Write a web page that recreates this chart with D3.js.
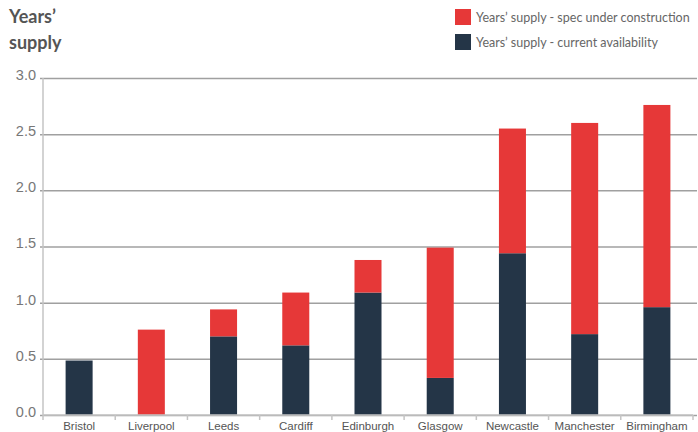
<!DOCTYPE html>
<html lang="en">
<head>
<meta charset="utf-8">
<title>Years' supply</title>
<script src="https://cdn.jsdelivr.net/npm/d3@7"></script>
<style>
  body { margin: 0; background: #fff; }
  svg { font-family: Lato, "Open Sans", sans-serif; }
  .grid line { stroke: #a0a0a0; stroke-width: 1.5; }
  .grid path { display: none; }
  .yaxis text { fill: #777; font-size: 14.5px; }
  .xaxis text { fill: #555; font-size: 11.5px; }
  .xaxis line, .xaxis path { stroke: #c4c4c4; stroke-width: 1.5; }
</style>
</head>
<body>
<script>
// data
var cities = ["Bristol", "Liverpool", "Leeds", "Cardiff", "Edinburgh", "Glasgow", "Newcastle", "Manchester", "Birmingham"];
var currentAvail = [0.485, 0, 0.70, 0.62, 1.09, 0.33, 1.44, 0.72, 0.96];
var specUnderCon = [0, 0.76, 0.24, 0.47, 0.29, 1.16, 1.11, 1.88, 1.80];
var yTicks = [0, 0.5, 1.0, 1.5, 2.0, 2.5, 3.0];
var seriesNames = ["Years\u2019 supply - spec under construction", "Years\u2019 supply - current availability"];
var colors = ["#e63838", "#243547"];

var w = 698, h = 432;
var padL = 43, padR = 693, padT = 78, padB = 415;

var svg = d3.select("body").append("svg")
  .attr("width", w)
  .attr("height", h);

var xScale = d3.scaleBand()
  .domain(cities)
  .range([padL, padR])
  .paddingInner(0.626)
  .paddingOuter(0.313);

var yScale = d3.scaleLinear()
  .domain([0, 3])
  .range([padB, padT]);

// gridlines + y labels
var yAxis = d3.axisLeft(yScale)
  .tickValues(yTicks)
  .tickFormat(d3.format(".1f"))
  .tickSize(-(697 - padL))
  .tickPadding(8);

var gy = svg.append("g")
  .attr("class", "grid yaxis")
  .attr("transform", "translate(" + padL + ",0)")
  .call(yAxis);
gy.selectAll("line").attr("x1", -3);
gy.selectAll("text").attr("x", -7).attr("dy", "0.1em");

// y axis line
svg.append("line")
  .attr("x1", padL).attr("x2", padL)
  .attr("y1", padT).attr("y2", padB)
  .attr("stroke", "#c4c4c4")
  .attr("stroke-width", 1.5);

// stacked bars
var rows = cities.map(function(c, i) {
  return { city: c, cur: currentAvail[i], spec: specUnderCon[i] };
});
var stack = d3.stack().keys(["cur", "spec"]);
var layers = stack(rows);

svg.selectAll("g.layer")
  .data(layers)
  .enter()
  .append("g")
  .attr("class", "layer")
  .attr("fill", function(d, i) { return i === 0 ? colors[1] : colors[0]; })
  .selectAll("rect")
  .data(function(d) { return d; })
  .enter()
  .append("rect")
  .attr("x", function(d) { return xScale(d.data.city); })
  .attr("width", xScale.bandwidth())
  .attr("y", function(d) { return yScale(d[1]); })
  .attr("height", function(d) { return yScale(d[0]) - yScale(d[1]); });

// x axis with boundary ticks
var gx = svg.append("g")
  .attr("class", "xaxis")
  .attr("transform", "translate(0," + padB + ")")
  .call(d3.axisBottom(xScale).tickSize(0).tickPadding(7));
gx.select("path").attr("d", "M" + padL + ",0H" + padR);
var step = xScale.step();
gx.selectAll("line.bound")
  .data(d3.range(cities.length + 1))
  .enter()
  .append("line")
  .attr("class", "bound")
  .attr("x1", function(i) { return padL + i * step; })
  .attr("x2", function(i) { return padL + i * step; })
  .attr("y1", 0)
  .attr("y2", 5);

// title
var title = svg.append("text")
  .attr("x", 9)
  .attr("fill", "#555")
  .attr("font-size", "18px")
  .attr("font-weight", "bold");
title.append("tspan").attr("x", 9).attr("y", 23).text("Years\u2019");
title.append("tspan").attr("x", 9).attr("y", 49).text("supply");

// legend
var legend = svg.selectAll("g.legend")
  .data(seriesNames)
  .enter()
  .append("g")
  .attr("class", "legend")
  .attr("transform", function(d, i) { return "translate(455," + (9 + i * 25) + ")"; });
legend.append("rect")
  .attr("width", 16)
  .attr("height", 16)
  .attr("fill", function(d, i) { return colors[i]; });
legend.append("text")
  .attr("x", 21)
  .attr("y", 12.5)
  .attr("fill", "#666")
  .attr("font-size", "12.5px")
  .text(function(d) { return d; });
</script>
</body>
</html>
